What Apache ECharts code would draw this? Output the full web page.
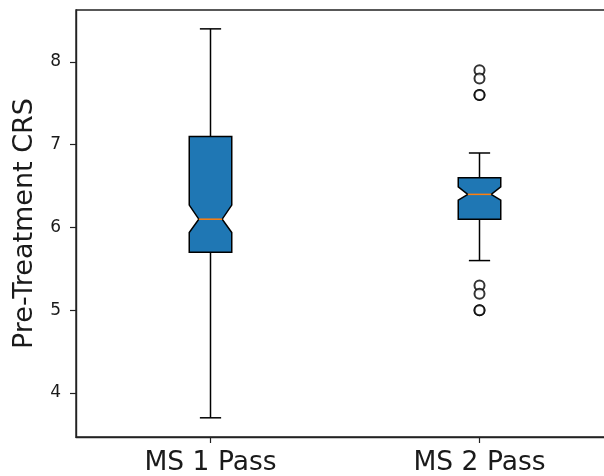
<!DOCTYPE html>
<html>
<head>
<meta charset="utf-8">
<script src="https://cdn.jsdelivr.net/npm/echarts@6/dist/echarts.min.js"></script>
<style>html,body{margin:0;padding:0;background:#fff}#chart{width:604px;height:476px}</style>
</head>
<body>
<div id="chart"></div>
<script>
// Categories
var categories = ['MS 1 Pass', 'MS 2 Pass'];
// Box statistics per category: whisker low, Q1, notch low, median, notch high, Q3, whisker high
var whiskerLow  = [3.7, 5.6];
var q1          = [5.7, 6.1];
var notchLow    = [5.94, 6.33];
var median      = [6.1, 6.4];
var notchHigh   = [6.27, 6.49];
var q3          = [7.1, 6.6];
var whiskerHigh = [8.4, 6.9];
// Outliers (category index, value)
var outlierCat  = [1, 1, 1, 1, 1, 1, 1, 1];
var outlierVal  = [7.9, 7.8, 7.6, 7.6, 5.3, 5.2, 5.0, 5.0];
// Y tick labels
var yTicks = [4, 5, 6, 7, 8];

var boxData = categories.map(function (c, i) {
  return [i, whiskerLow[i], q1[i], notchLow[i], median[i], notchHigh[i], q3[i], whiskerHigh[i]];
});
var outlierData = outlierVal.map(function (v, i) { return [outlierCat[i], v]; });

function renderBox(params, api) {
  var x = api.value(0);
  var band = api.size([1, 0])[0];
  var hw = band * 0.079;
  var nw = hw * 0.55;
  var cw = hw * 0.5;
  var pWL = api.coord([x, api.value(1)]);
  var pQ1 = api.coord([x, api.value(2)]);
  var pNL = api.coord([x, api.value(3)]);
  var pMed = api.coord([x, api.value(4)]);
  var pNH = api.coord([x, api.value(5)]);
  var pQ3 = api.coord([x, api.value(6)]);
  var pWH = api.coord([x, api.value(7)]);
  var cx = pMed[0];
  var lineStyle = { stroke: '#000', lineWidth: 1.5 };
  return {
    type: 'group',
    children: [
      { type: 'line', shape: { x1: cx, y1: pQ3[1], x2: cx, y2: pWH[1] }, style: lineStyle },
      { type: 'line', shape: { x1: cx, y1: pQ1[1], x2: cx, y2: pWL[1] }, style: lineStyle },
      { type: 'line', shape: { x1: cx - cw, y1: pWH[1], x2: cx + cw, y2: pWH[1] }, style: lineStyle },
      { type: 'line', shape: { x1: cx - cw, y1: pWL[1], x2: cx + cw, y2: pWL[1] }, style: lineStyle },
      {
        type: 'polygon',
        shape: {
          points: [
            [cx - hw, pQ1[1]], [cx - hw, pNL[1]], [cx - nw, pMed[1]], [cx - hw, pNH[1]],
            [cx - hw, pQ3[1]], [cx + hw, pQ3[1]], [cx + hw, pNH[1]], [cx + nw, pMed[1]],
            [cx + hw, pNL[1]], [cx + hw, pQ1[1]]
          ]
        },
        style: { fill: '#1f77b4', stroke: '#000', lineWidth: 1.5, lineJoin: 'miter' }
      },
      { type: 'line', shape: { x1: cx - nw, y1: pMed[1], x2: cx + nw, y2: pMed[1] }, style: { stroke: '#ff7f0e', lineWidth: 1.5 } }
    ]
  };
}

var chart = echarts.init(document.getElementById('chart'), null, { renderer: 'canvas' });
chart.setOption({
  animation: false,
  backgroundColor: '#fff',
  grid: {
    left: 76, top: 10, right: -10, bottom: 39,
    show: true, borderColor: '#222', borderWidth: 1.4, backgroundColor: 'transparent',
    outerBoundsMode: 'none', containLabel: false
  },
  xAxis: {
    type: 'category',
    data: categories,
    boundaryGap: true,
    axisLine: { show: true, lineStyle: { color: '#222', width: 1.4 } },
    axisTick: { show: true, alignWithLabel: true, length: 6, lineStyle: { color: '#222', width: 1.2 } },
    axisLabel: { color: '#1a1a1a', fontFamily: 'DejaVu Sans', fontSize: 26.5, margin: 13 },
    splitLine: { show: false }
  },
  yAxis: {
    type: 'value',
    min: 3.468,
    max: 8.628,
    name: 'Pre-Treatment CRS',
    nameLocation: 'middle',
    nameGap: 38,
    nameTextStyle: { color: '#1a1a1a', fontFamily: 'DejaVu Sans', fontSize: 27 },
    axisLine: { show: true, lineStyle: { color: '#222', width: 1.4 } },
    axisTick: { show: true, length: 6, customValues: yTicks, lineStyle: { color: '#222', width: 1.2 } },
    axisLabel: { color: '#1a1a1a', fontFamily: 'DejaVu Sans', fontSize: 17, margin: 15, customValues: yTicks },
    splitLine: { show: false }
  },
  series: [
    {
      type: 'custom',
      renderItem: renderBox,
      data: boxData,
      encode: { x: 0, y: [1, 2, 3, 4, 5, 6, 7] },
      clip: false,
      z: 2
    },
    {
      type: 'scatter',
      data: outlierData,
      symbol: 'emptyCircle',
      symbolSize: 10,
      itemStyle: { color: '#000', borderColor: '#000', borderWidth: 2 },
      z: 3
    }
  ]
});
</script>
</body>
</html>
